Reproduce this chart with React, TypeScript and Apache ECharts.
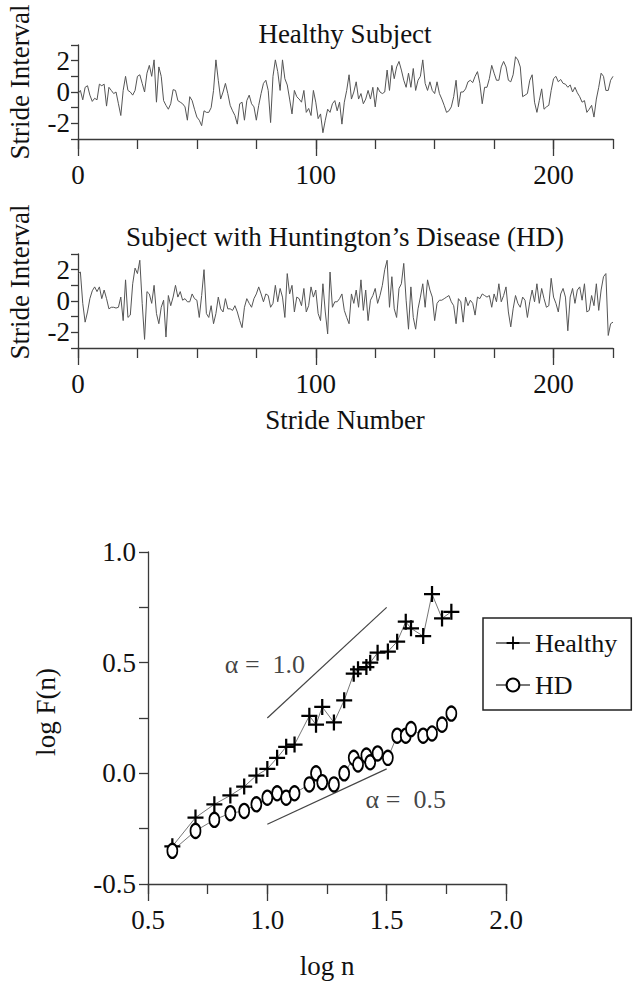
import React, { useEffect, useRef } from "react";
import * as echarts from "echarts";

const FONT = "'Liberation Serif', 'Times New Roman', serif";

// Stride interval (standardised) for each stride 0..225
const healthyInterval = [
  -0.1, 0.1, -0.5, 0.3, 0.4, -0.2, -0.6, -0.4, -0.5, 0.5,
  0.4, 0.5, -0.9, 0.3, 0.1, -0.1, 0, -0.75, -1.5, 0.1,
  1.0, 0.1, 0, -0.2, 0.1, 1.0, 1.1, 0.55, 0, 1.2,
  1.7, 1.0, 2.05, -0.65, 1.6, 1.0, -0.55, -0.85, -1.1, -0.75,
  0.15, 0.1, -0.55, -0.65, -0.75, -0.95, -1.8, -0.3, -0.55, -1.1,
  -1.6, -1.8, -2.15, -1.2, -1.3, -1.3, -1.0, 0.1, 2.05, 0.75,
  -0.45, 0, 0.55, -0.1, -0.85, -1.2, -1.5, -2.05, -0.75, -0.65,
  -1.8, -0.55, -0.2, -0.75, -0.95, -1.8, -0.85, -0.1, 0.55, 0.75,
  0.1, -1.95, 1.0, 2.05, 1.3, 0.1, 2.05, 0.85, 0.45, -0.45,
  -1.4, 0.1, -0.3, -0.45, -0.65, 0.1, -1.3, -1.05, -1.5, 0.1,
  -0.65, -1.7, -1.4, -2.6, -1.8, -1.1, -1.3, -0.75, -0.55, -1.2,
  -0.65, -2.05, -0.65, 0.1, 1.1, -0.45, 0, 0.65, -0.45, -0.1,
  -0.75, -0.45, 0.1, -0.45, 0.3, -0.95, 0.3, 0, -0.1, 0,
  1.4, 0.1, 1.7, 0.85, 1.6, 1.95, 1.4, 0.75, 0.3, 1.2,
  0.3, 1.5, 0.1, 0.75, 1.0, 2.05, 0.55, 0.1, 0.65, 0.1,
  -0.1, 0.65, -0.1, -0.45, -0.85, -1.3, -1.2, -0.95, -0.3, 0.75,
  -0.95, 0, 0, 0.2, 0.65, 0.75, 0.6, 1.0, 1.3, 0.55,
  -0.75, 0.3, 0.3, 0.85, 1.7, 1.2, 0.75, 0.75, 1.6, 1.95,
  1.6, 0.75, 0.65, 1.1, 2.25, 2.05, 1.6, -0.3, -0.2, -0.1,
  0.75, 1.1, -0.65, -1.3, -0.55, 0.2, -1.1, -0.95, -0.85, 0.1,
  0.85, 1.0, 0.65, 0.8, 0.55, 0.5, 0.3, 0.45, 0, 0.3,
  -0.05, -0.3, -0.65, -0.55, -1.3, -1.1, -0.85, -1.6, -0.45, 0.3,
  1.2, 1.0, 0.1, 0.1, 0.75, 1.0,
];

const hdInterval = [
  1.75, 1.85, -0.15, -1.35, -0.7, 0.15, 0.65, 0.9, 0.6, 0.9,
  0.15, 0.7, 0.15, -0.5, -0.4, -0.4, -0.45, -0.4, 0.25, -1.25,
  1.35, -1.05, -0.9, 1.1, 2.1, 1.75, 2.6, -0.15, -2.45, 0.6,
  0.45, -0.15, 1.0, -0.8, -1.45, -0.4, 0.05, -2.3, 0.35, -0.3,
  0.25, 1.0, 0.25, 0.6, 0.05, 0.15, -0.05, -0.05, 0.45, 0.15,
  0.05, -1.05, 0.35, 2.0, -0.8, -1.05, -0.3, -1.45, -0.8, 0.25,
  -0.5, -0.7, 0.15, -0.5, -0.5, -0.6, -0.3, -0.7, -1.25, -1.7,
  -0.4, 0.15, -0.15, -0.4, 0.15, 0.45, 0.9, 0.45, -0.05, 0.45,
  0.35, -0.4, -0.15, 1.0, -0.05, 0.8, 0.25, -1.05, 1.75, 0.45,
  1.0, -0.7, 0.25, 0.15, -0.3, 0.8, -0.7, -0.3, 0.9, 0.25,
  0.7, -0.8, -1.25, 1.1, -0.7, -2.1, 1.85, -0.4, -0.05, -0.05,
  0.15, 0.45, -0.6, -1.05, -1.45, 0.45, -0.15, 0.7, -0.4, 1.35,
  -0.6, 0.7, -1.25, 0.05, 0.35, 0.8, -0.15, 0.35, 1.0, 2.0,
  2.6, -0.4, 1.55, -0.5, -1.05, 0.8, 1.1, 2.4, 0.05, -1.8,
  0.9, -1.05, -1.8, -0.5, 0.25, 1.1, -0.4, 1.35, 0.7, 0.25,
  -1.25, -0.15, 0.05, 0.05, 0.15, 0.25, 0.35, -0.05, -0.3, -1.45,
  0.15, -0.05, -1.35, 0.25, -0.3, 0.05, -0.15, -0.9, 0.25, 0.15,
  0.45, 0.35, 0.25, 0.35, -0.4, 0.45, -0.05, 1.1, -0.05, 0.35,
  0.9, -0.7, -1.65, -0.5, 0.35, -0.15, -0.4, 0.25, 0.05, -1.05,
  -0.05, 0.7, -0.05, 1.1, -0.15, 0.8, 0.15, -0.4, -0.3, 1.45,
  0.25, -0.15, -0.7, 0.45, 0.8, 0.25, -1.9, 0.25, 0.8, -0.15,
  0.7, 0.9, 0.05, 1.1, -0.7, -0.6, 0.35, -0.3, 1.1, -0.6,
  0.7, 1.55, 1.75, -2.2, -1.45, -1.35,
];

// DFA fluctuation plot
const logN = [
  0.602, 0.699, 0.778, 0.845, 0.903, 0.954, 1.0, 1.041, 1.079, 1.114,
  1.176, 1.204, 1.23, 1.279, 1.322, 1.362, 1.38, 1.415, 1.431, 1.462,
  1.505, 1.544, 1.58, 1.602, 1.653, 1.69, 1.732, 1.771,
];
const healthyLogF = [
  -0.33, -0.2, -0.14, -0.1, -0.06, -0.01, 0.02, 0.07, 0.12, 0.13,
  0.26, 0.22, 0.3, 0.23, 0.33, 0.45, 0.47, 0.48, 0.5, 0.545,
  0.55, 0.595, 0.685, 0.655, 0.62, 0.81, 0.7, 0.73,
];
const hdLogF = [
  -0.35, -0.26, -0.21, -0.18, -0.17, -0.14, -0.11, -0.09, -0.11, -0.09,
  -0.05, 0.0, -0.04, -0.05, 0.0, 0.07, 0.04, 0.08, 0.05, 0.09,
  0.07, 0.17, 0.17, 0.2, 0.17, 0.18, 0.22, 0.27,
];
const alpha1Line = [[1.0, 0.25], [1.5, 0.75]];
const alpha05Line = [[1.0, -0.23], [1.5, 0.02]];
const alpha1Label = [[0.99, 0.49]];
const alpha05Label = [[1.58, -0.12]];

const strideMajor = [0, 100, 200];
const logNMajor = [0.5, 1.0, 1.5, 2.0];

const PLUS =
  "path://M43,0 L57,0 L57,43 L100,43 L100,57 L57,57 L57,100 L43,100 L43,57 L0,57 L0,43 L43,43 Z";

export default function App() {
  const ref = useRef<HTMLDivElement>(null);
  useEffect(() => {
    if (!ref.current) return;
    const chart = echarts.init(ref.current, undefined, { renderer: "svg" });
    const axisColor = "#3a3a3a";
    const lineStyle = { color: axisColor, width: 1.3 };
    const lbl = { color: "#111", fontFamily: FONT, fontSize: 27 };

    const strideMinorAxis = (gridIndex: number) => ({
      gridIndex,
      type: "value",
      position: "bottom",
      min: 0,
      max: 225,
      interval: 25,
      axisLine: { show: true, onZero: false, lineStyle },
      axisTick: { show: true, length: 10, lineStyle },
      axisLabel: { show: false },
      splitLine: { show: false },
    });
    const strideMajorAxis = (gridIndex: number) => ({
      gridIndex,
      type: "value",
      position: "bottom",
      offset: 0,
      min: 0,
      max: 225,
      interval: 25,
      axisLine: { show: false, onZero: false },
      axisTick: { show: true, length: 17, lineStyle, customValues: strideMajor },
      axisLabel: { ...lbl, margin: 22, customValues: strideMajor },
      splitLine: { show: false },
    });
    const strideYAxis = (gridIndex: number) => ({
      gridIndex,
      type: "value",
      min: -3,
      max: 3,
      interval: 1,
      axisLine: { show: true, onZero: false, lineStyle },
      axisTick: { show: true, length: 7, lineStyle },
      axisLabel: {
        ...lbl,
        margin: 8,
        formatter: (v: number) => (Math.abs(v) % 2 === 0 ? String(v) : ""),
      },
      splitLine: { show: false },
    });

    const textEl = (text: string, x: number, y: number, rotation = 0) => ({
      type: "text",
      x,
      y,
      rotation,
      style: {
        text,
        fontFamily: FONT,
        fontSize: 27,
        fill: "#111",
        align: "center",
        verticalAlign: "middle",
      },
    });

    chart.setOption({
      animation: false,
      backgroundColor: "#fff",
      grid: [
        { left: 78, top: 45, width: 535, height: 94 },
        { left: 78, top: 254, width: 535, height: 94 },
        { left: 148, top: 552, width: 358, height: 332 },
      ],
      xAxis: [
        strideMinorAxis(0),
        strideMajorAxis(0),
        strideMinorAxis(1),
        strideMajorAxis(1),
        {
          gridIndex: 2,
          type: "value",
          position: "bottom",
          min: 0.5,
          max: 2.0,
          interval: 0.25,
          axisLine: { show: true, onZero: false, lineStyle },
          axisTick: { show: true, length: 10, lineStyle },
          axisLabel: { show: false },
          splitLine: { show: false },
        },
        {
          gridIndex: 2,
          type: "value",
          position: "bottom",
          offset: 0,
          min: 0.5,
          max: 2.0,
          interval: 0.25,
          axisLine: { show: false, onZero: false },
          axisTick: { show: true, length: 17, lineStyle, customValues: logNMajor },
          axisLabel: {
            ...lbl,
            margin: 22,
            customValues: logNMajor,
            formatter: (v: number) => v.toFixed(1),
          },
          splitLine: { show: false },
        },
      ],
      yAxis: [
        strideYAxis(0),
        strideYAxis(1),
        {
          gridIndex: 2,
          type: "value",
          min: -0.5,
          max: 1.0,
          interval: 0.25,
          axisLine: { show: true, onZero: false, lineStyle },
          axisTick: { show: true, length: 9, lineStyle },
          axisLabel: {
            ...lbl,
            margin: 12,
            formatter: (v: number) =>
              Math.abs(v * 2 - Math.round(v * 2)) < 1e-9 ? v.toFixed(1) : "",
          },
          splitLine: { show: false },
        },
      ],
      legend: {
        data: ["Healthy", "HD"],
        orient: "vertical",
        left: 483,
        top: 618,
        padding: [12, 14, 12, 12],
        itemGap: 16,
        itemWidth: 34,
        itemHeight: 16,
        borderColor: "#222",
        borderWidth: 1.5,
        textStyle: { ...lbl, fontSize: 26 },
      },
      graphic: [
        textEl("Healthy Subject", 345, 34),
        textEl("Subject with Huntington\u2019s Disease (HD)", 345, 237),
        textEl("Stride Interval", 20, 82, Math.PI / 2),
        textEl("Stride Interval", 20, 282, Math.PI / 2),
        textEl("Stride Number", 345, 420),
        textEl("log F(n)", 46, 712, Math.PI / 2),
        textEl("log n", 327, 966),
      ],
      series: [
        {
          type: "line",
          xAxisIndex: 0,
          yAxisIndex: 0,
          data: healthyInterval.map((v, i) => [i, v]),
          showSymbol: false,
          lineStyle: { color: "#555", width: 1 },
          silent: true,
        },
        {
          type: "line",
          xAxisIndex: 2,
          yAxisIndex: 1,
          data: hdInterval.map((v, i) => [i, v]),
          showSymbol: false,
          lineStyle: { color: "#555", width: 1 },
          silent: true,
        },
        {
          name: "Healthy",
          type: "line",
          xAxisIndex: 4,
          yAxisIndex: 2,
          data: logN.map((x, i) => [x, healthyLogF[i]]),
          symbol: PLUS,
          symbolSize: 16,
          itemStyle: { color: "#000" },
          lineStyle: { color: "#777", width: 1 },
        },
        {
          name: "HD",
          type: "line",
          xAxisIndex: 4,
          yAxisIndex: 2,
          data: logN.map((x, i) => [x, hdLogF[i]]),
          symbol: "emptyCircle",
          symbolSize: [10, 14],
          itemStyle: { color: "#000", borderWidth: 1.6 },
          lineStyle: { color: "#777", width: 1 },
        },
        {
          type: "line",
          xAxisIndex: 4,
          yAxisIndex: 2,
          data: alpha1Line,
          showSymbol: false,
          lineStyle: { color: "#444", width: 1.2 },
          silent: true,
        },
        {
          type: "line",
          xAxisIndex: 4,
          yAxisIndex: 2,
          data: alpha05Line,
          showSymbol: false,
          lineStyle: { color: "#444", width: 1.2 },
          silent: true,
        },
        {
          type: "scatter",
          xAxisIndex: 4,
          yAxisIndex: 2,
          data: alpha1Label,
          symbolSize: 0,
          silent: true,
          label: { show: true, position: "inside", formatter: "\u03b1 =  1.0", ...lbl, fontSize: 26 },
        },
        {
          type: "scatter",
          xAxisIndex: 4,
          yAxisIndex: 2,
          data: alpha05Label,
          symbolSize: 0,
          silent: true,
          label: { show: true, position: "inside", formatter: "\u03b1 =  0.5", ...lbl, fontSize: 26 },
        },
      ],
    });
    return () => chart.dispose();
  }, []);
  return (
    <div
      ref={ref}
      style={{ position: "fixed", left: 0, top: 0, width: 642, height: 981, background: "#fff" }}
    />
  );
}
